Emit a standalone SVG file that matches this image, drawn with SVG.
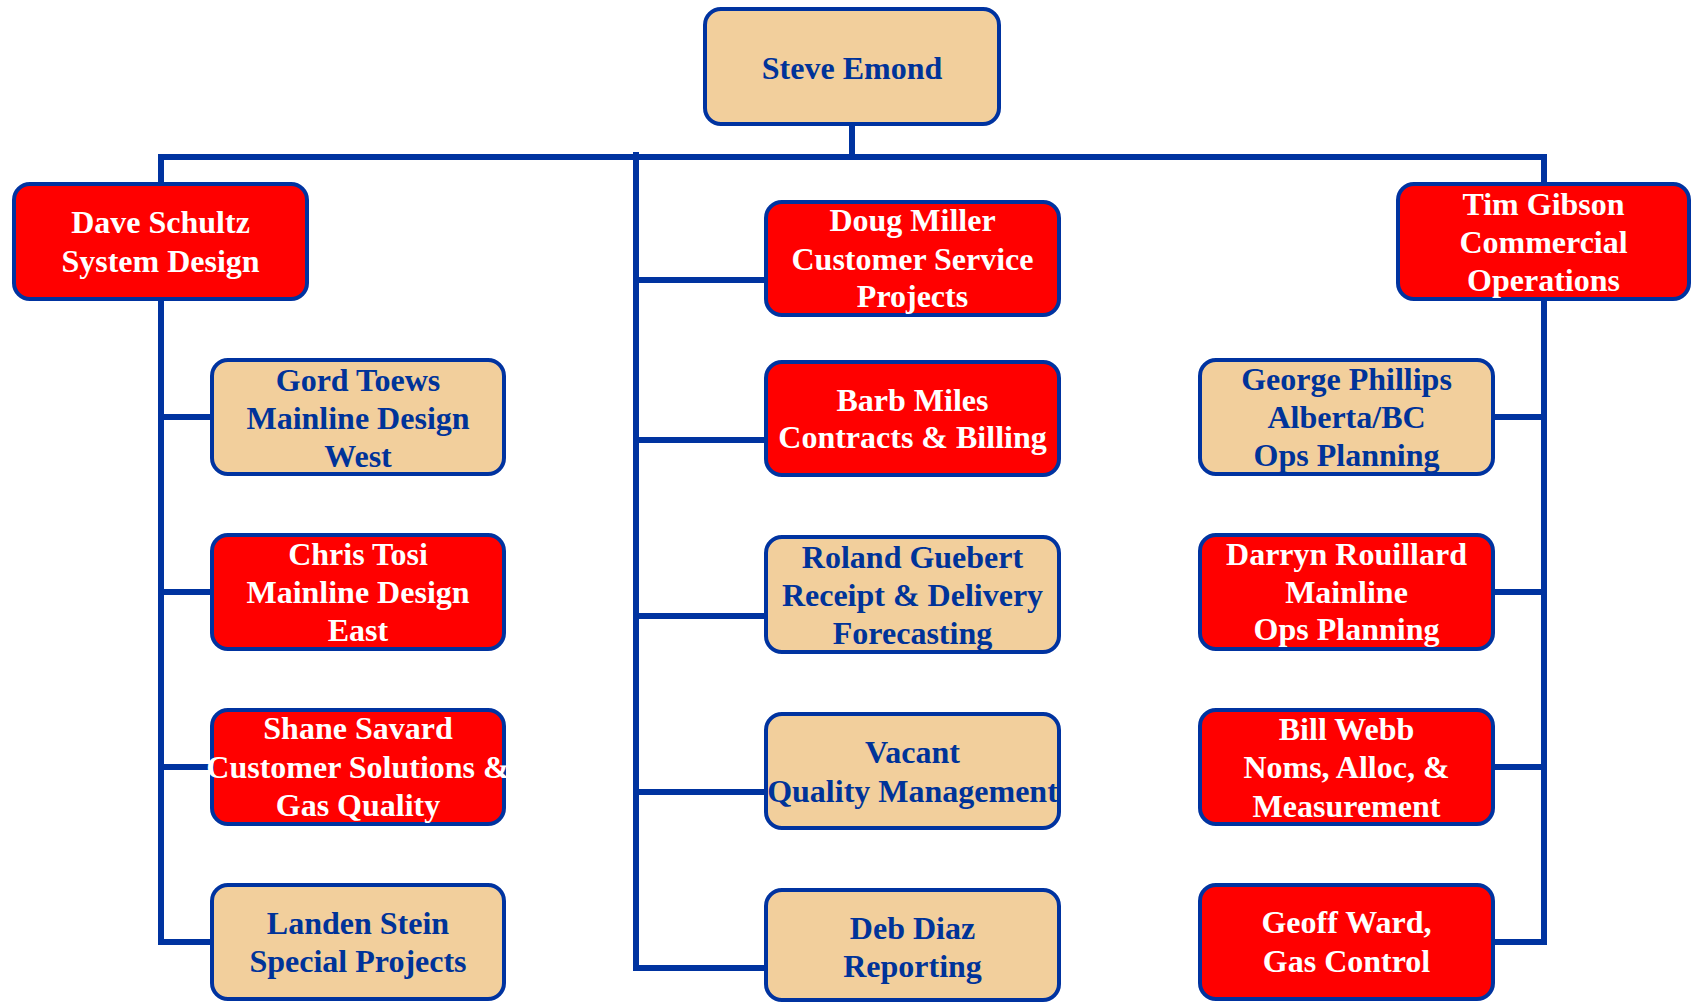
<svg xmlns="http://www.w3.org/2000/svg" width="1693" height="1003" viewBox="0 0 1693 1003">
<style>
.bg{fill:#ffffff}
.con{fill:none;stroke:#0033A0;stroke-width:6;stroke-linejoin:miter}
.box{stroke:#0033A0;stroke-width:4}
.tan{fill:#F2CF9C}
.red{fill:#FF0000}
text{font-family:"Liberation Serif","Times New Roman",serif;font-weight:bold;font-size:32px;text-anchor:middle}
.tb{fill:#003399}
.tw{fill:#ffffff}
</style>
<rect class="bg" x="0" y="0" width="1693" height="1003"/>
<g id="connectors">
<path class="con" d="M852 126 V157"/>
<path class="con" d="M212 942 H161 V157 H1544 V942 H1493"/>
<path class="con" d="M161 417 H212 M161 592 H212 M161 767 H212"/>
<path class="con" d="M1544 417 H1493 M1544 592 H1493 M1544 767 H1493"/>
<path class="con" d="M636 152 V968 H766"/>
<path class="con" d="M636 280 H766 M636 440 H766 M636 616 H766 M636 792 H766"/>
</g>
<g id="steve-emond">
<rect class="box tan" x="705" y="9" width="294" height="115" rx="16"/>
<text class="tb" x="852" y="79">Steve Emond</text>
</g>
<g id="dave-schultz">
<rect class="box red" x="14" y="184" width="293" height="115" rx="16"/>
<text class="tw"><tspan x="160.5" y="233">Dave Schultz</tspan><tspan x="160.5" y="272">System Design</tspan></text>
</g>
<g id="tim-gibson">
<rect class="box red" x="1398" y="184" width="291" height="115" rx="16"/>
<text class="tw"><tspan x="1543.5" y="215">Tim Gibson</tspan><tspan x="1543.5" y="253">Commercial</tspan><tspan x="1543.5" y="291">Operations</tspan></text>
</g>
<g id="gord-toews">
<rect class="box tan" x="212" y="360" width="292" height="114" rx="16"/>
<text class="tb"><tspan x="358" y="391">Gord Toews</tspan><tspan x="358" y="429">Mainline Design</tspan><tspan x="358" y="467">West</tspan></text>
</g>
<g id="chris-tosi">
<rect class="box red" x="212" y="535" width="292" height="114" rx="16"/>
<text class="tw"><tspan x="358" y="565">Chris Tosi</tspan><tspan x="358" y="603">Mainline Design</tspan><tspan x="358" y="641">East</tspan></text>
</g>
<g id="shane-savard">
<rect class="box red" x="212" y="710" width="292" height="114" rx="16"/>
<text class="tw"><tspan x="358" y="739">Shane Savard</tspan><tspan x="358" y="778">Customer Solutions &amp;</tspan><tspan x="358" y="816">Gas Quality</tspan></text>
</g>
<g id="landen-stein">
<rect class="box tan" x="212" y="885" width="292" height="114" rx="16"/>
<text class="tb"><tspan x="358" y="934">Landen Stein</tspan><tspan x="358" y="972">Special Projects</tspan></text>
</g>
<g id="doug-miller">
<rect class="box red" x="766" y="202" width="293" height="113" rx="16"/>
<text class="tw"><tspan x="912.5" y="231">Doug Miller</tspan><tspan x="912.5" y="270">Customer Service</tspan><tspan x="912.5" y="307">Projects</tspan></text>
</g>
<g id="barb-miles">
<rect class="box red" x="766" y="362" width="293" height="113" rx="16"/>
<text class="tw"><tspan x="912.5" y="411">Barb Miles</tspan><tspan x="912.5" y="448">Contracts &amp; Billing</tspan></text>
</g>
<g id="roland-guebert">
<rect class="box tan" x="766" y="537" width="293" height="115" rx="16"/>
<text class="tb"><tspan x="912.5" y="568">Roland Guebert</tspan><tspan x="912.5" y="606">Receipt &amp; Delivery</tspan><tspan x="912.5" y="644">Forecasting</tspan></text>
</g>
<g id="vacant">
<rect class="box tan" x="766" y="714" width="293" height="114" rx="16"/>
<text class="tb"><tspan x="912.5" y="763">Vacant</tspan><tspan x="912.5" y="802">Quality Management</tspan></text>
</g>
<g id="deb-diaz">
<rect class="box tan" x="766" y="890" width="293" height="110" rx="16"/>
<text class="tb"><tspan x="912.5" y="939">Deb Diaz</tspan><tspan x="912.5" y="977">Reporting</tspan></text>
</g>
<g id="george-phillips">
<rect class="box tan" x="1200" y="360" width="293" height="114" rx="16"/>
<text class="tb"><tspan x="1346.5" y="390">George Phillips</tspan><tspan x="1346.5" y="428">Alberta/BC</tspan><tspan x="1346.5" y="466">Ops Planning</tspan></text>
</g>
<g id="darryn-rouillard">
<rect class="box red" x="1200" y="535" width="293" height="114" rx="16"/>
<text class="tw"><tspan x="1346.5" y="565">Darryn Rouillard</tspan><tspan x="1346.5" y="603">Mainline</tspan><tspan x="1346.5" y="640">Ops Planning</tspan></text>
</g>
<g id="bill-webb">
<rect class="box red" x="1200" y="710" width="293" height="114" rx="16"/>
<text class="tw"><tspan x="1346.5" y="740">Bill Webb</tspan><tspan x="1346.5" y="778">Noms, Alloc, &amp;</tspan><tspan x="1346.5" y="817">Measurement</tspan></text>
</g>
<g id="geoff-ward">
<rect class="box red" x="1200" y="885" width="293" height="114" rx="16"/>
<text class="tw"><tspan x="1346.5" y="933">Geoff Ward,</tspan><tspan x="1346.5" y="972">Gas Control</tspan></text>
</g>
</svg>
